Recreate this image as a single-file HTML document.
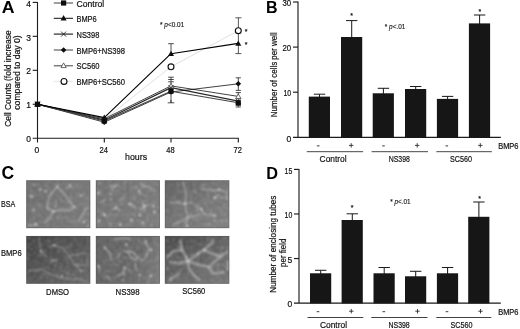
<!DOCTYPE html>
<html lang="en"><head><meta charset="utf-8"><title>Figure</title>
<style>html,body{margin:0;padding:0;background:#fff;}svg{display:block;}text{font-family:'Liberation Sans', Arial, sans-serif;}</style>
</head><body>
<svg width="520" height="329" viewBox="0 0 520 329">
<defs><filter id="soft" x="-5%" y="-5%" width="110%" height="110%"><feGaussianBlur stdDeviation="0.42"/></filter><filter id="b1" x="-10%" y="-10%" width="120%" height="120%"><feGaussianBlur stdDeviation="0.85"/></filter><filter id="b2" x="-10%" y="-10%" width="120%" height="120%"><feGaussianBlur stdDeviation="1.3"/></filter></defs>
<rect width="520" height="329" fill="#fff"/>
<g filter="url(#soft)">
<text x="1.70" y="12.84" font-size="16.3" text-anchor="start" fill="#000" stroke="#000" stroke-width="0" textLength="12.8" lengthAdjust="spacingAndGlyphs" font-weight="bold" >A</text>
<text x="266.00" y="13.03" font-size="16" text-anchor="start" fill="#000" stroke="#000" stroke-width="0" font-weight="bold" >B</text>
<text x="1.50" y="178.60" font-size="17.6" text-anchor="start" fill="#000" stroke="#000" stroke-width="0" font-weight="bold" >C</text>
<text x="266.20" y="178.84" font-size="16.3" text-anchor="start" fill="#000" stroke="#000" stroke-width="0" font-weight="bold" >D</text>
<g stroke="#1c1c1c" stroke-width="1.1" fill="none">
<path d="M37.5,1.90 V142.39999999999998 M32.7,138.2 H238.8"/>
<path d="M32.7,104.25 H37.5"/>
<path d="M32.7,70.30 H37.5"/>
<path d="M32.7,36.35 H37.5"/>
<path d="M32.7,2.40 H37.5"/>
<path d="M104.3,138.2 V142.39999999999998"/>
<path d="M171.0,138.2 V142.39999999999998"/>
<path d="M238.3,138.2 V142.39999999999998"/>
</g>
<text x="31.00" y="142.35" font-size="8.51" text-anchor="end" fill="#111" stroke="#111" stroke-width="0.2" >0</text>
<text x="31.00" y="108.40" font-size="8.51" text-anchor="end" fill="#111" stroke="#111" stroke-width="0.2" >1</text>
<text x="31.00" y="74.45" font-size="8.51" text-anchor="end" fill="#111" stroke="#111" stroke-width="0.2" >2</text>
<text x="31.00" y="40.50" font-size="8.51" text-anchor="end" fill="#111" stroke="#111" stroke-width="0.2" >3</text>
<text x="31.00" y="6.55" font-size="8.51" text-anchor="end" fill="#111" stroke="#111" stroke-width="0.2" >4</text>
<text x="36.90" y="153.35" font-size="8.51" text-anchor="middle" fill="#111" stroke="#111" stroke-width="0.2" >0</text>
<text x="103.70" y="153.35" font-size="8.51" text-anchor="middle" fill="#111" stroke="#111" stroke-width="0.2" textLength="8.4" lengthAdjust="spacingAndGlyphs" >24</text>
<text x="170.40" y="153.35" font-size="8.51" text-anchor="middle" fill="#111" stroke="#111" stroke-width="0.2" textLength="8.4" lengthAdjust="spacingAndGlyphs" >48</text>
<text x="237.70" y="153.35" font-size="8.51" text-anchor="middle" fill="#111" stroke="#111" stroke-width="0.2" textLength="8.4" lengthAdjust="spacingAndGlyphs" >72</text>
<text x="136.10" y="160.31" font-size="8.96" text-anchor="middle" fill="#111" stroke="#111" stroke-width="0.2" textLength="22.0" lengthAdjust="spacingAndGlyphs" >hours</text>
<text transform="translate(11.00,78.60) rotate(-90)" font-size="8.6" text-anchor="middle" textLength="96.5" lengthAdjust="spacingAndGlyphs" fill="#111" stroke="#111" stroke-width="0.2">Cell Counts (fold increase</text>
<text transform="translate(20.30,72.50) rotate(-90)" font-size="8.6" text-anchor="middle" textLength="74.5" lengthAdjust="spacingAndGlyphs" fill="#111" stroke="#111" stroke-width="0.2">compared to day 0)</text>
<text x="160.0" y="27.0" font-size="6.6" fill="#111" stroke="#111" stroke-width="0.12" textLength="24.3" lengthAdjust="spacingAndGlyphs">* <tspan font-style="italic">p</tspan>&lt;0.01</text>
<polyline points="37.5,104.2 104.3,119.6 171.0,66.8 238.3,30.7" fill="none" stroke="#dcdcdc" stroke-width="0.9" stroke-linejoin="round"/>
<polyline points="37.5,104.2 104.3,118.8 171.0,85.9 238.3,96.4" fill="none" stroke="#444" stroke-width="1.0" stroke-linejoin="round"/>
<polyline points="37.5,104.2 104.3,120.2 171.0,87.6 238.3,101.2" fill="none" stroke="#2a2a2a" stroke-width="1.2" stroke-linejoin="round"/>
<polyline points="37.5,104.2 104.3,122.2 171.0,92.0 238.3,83.8" fill="none" stroke="#000" stroke-width="0.75" stroke-linejoin="round"/>
<polyline points="37.5,104.2 104.3,121.0 171.0,91.2 238.3,102.8" fill="none" stroke="#444" stroke-width="1.15" stroke-linejoin="round"/>
<polyline points="37.5,104.2 104.3,117.6 171.0,53.7 238.3,43.4" fill="none" stroke="#000" stroke-width="1.15" stroke-linejoin="round"/>
<path d="M171.0,43.7 V53.7" stroke="#222" stroke-width="0.8" fill="none"/>
<path d="M168.2,43.7 H173.8" stroke="#222" stroke-width="0.8" fill="none"/>
<path d="M171.0,77.2 V102.8" stroke="#222" stroke-width="0.8" fill="none"/>
<path d="M168.2,77.2 H173.8" stroke="#222" stroke-width="0.8" fill="none"/>
<path d="M168.2,79.5 H173.8" stroke="#222" stroke-width="0.8" fill="none"/>
<path d="M168.2,81.8 H173.8" stroke="#222" stroke-width="0.8" fill="none"/>
<path d="M171.0,100 V102.8" stroke="#222" stroke-width="0.8" fill="none"/>
<path d="M167.7,102.8 H174.3" stroke="#222" stroke-width="0.8" fill="none"/>
<path d="M238.4,17.8 V44.0" stroke="#222" stroke-width="0.75" fill="none"/>
<path d="M235.4,17.8 H241.4" stroke="#222" stroke-width="0.75" fill="none"/>
<path d="M238.4,44.0 V53.6" stroke="#222" stroke-width="0.75" fill="none"/>
<path d="M235.4,53.6 H241.4" stroke="#222" stroke-width="0.75" fill="none"/>
<path d="M238.3,77.8 V90.4" stroke="#222" stroke-width="0.8" fill="none"/>
<path d="M235.70000000000002,77.8 H240.9" stroke="#222" stroke-width="0.8" fill="none"/>
<path d="M235.70000000000002,90.4 H240.9" stroke="#222" stroke-width="0.8" fill="none"/>
<path d="M238.3,92.6 V107.0" stroke="#222" stroke-width="0.8" fill="none"/>
<path d="M235.70000000000002,92.6 H240.9" stroke="#222" stroke-width="0.8" fill="none"/>
<path d="M235.70000000000002,107.0 H240.9" stroke="#222" stroke-width="0.8" fill="none"/>
<path d="M235.70000000000002,105.3 H240.9" stroke="#222" stroke-width="0.8" fill="none"/>
<path d="M37.5,101.60000000000001 L40.1,106.28 L34.9,106.28 Z" fill="#fff" stroke="#444" stroke-width="0.8"/>
<path d="M35.0,101.7 L40.0,106.7 M35.0,106.7 L40.0,101.7" stroke="#1a1a1a" stroke-width="0.85" fill="none"/>
<path d="M37.5,101.4 L40.3,104.2 L37.5,107.0 L34.7,104.2 Z" fill="#111"/>
<rect x="34.9" y="101.60000000000001" width="5.2" height="5.2" fill="#111"/>
<path d="M37.5,101.2 L40.5,106.60000000000001 L34.5,106.60000000000001 Z" fill="#111" stroke="none" stroke-width="0.8"/>
<path d="M104.3,116.2 L106.89999999999999,120.88 L101.7,120.88 Z" fill="#fff" stroke="#444" stroke-width="0.8"/>
<path d="M101.8,117.7 L106.8,122.7 M101.8,122.7 L106.8,117.7" stroke="#1a1a1a" stroke-width="0.85" fill="none"/>
<path d="M104.3,119.4 L107.1,122.2 L104.3,125.0 L101.5,122.2 Z" fill="#111"/>
<rect x="101.7" y="118.4" width="5.2" height="5.2" fill="#111"/>
<path d="M104.3,114.6 L107.3,120.0 L101.3,120.0 Z" fill="#111" stroke="none" stroke-width="0.8"/>
<path d="M171.0,83.30000000000001 L173.6,87.98 L168.4,87.98 Z" fill="#fff" stroke="#444" stroke-width="0.8"/>
<path d="M168.5,85.1 L173.5,90.1 M168.5,90.1 L173.5,85.1" stroke="#1a1a1a" stroke-width="0.85" fill="none"/>
<path d="M171.0,89.2 L173.8,92.0 L171.0,94.8 L168.2,92.0 Z" fill="#111"/>
<rect x="168.4" y="88.60000000000001" width="5.2" height="5.2" fill="#111"/>
<path d="M171.0,50.7 L174.0,56.1 L168.0,56.1 Z" fill="#111" stroke="none" stroke-width="0.8"/>
<circle cx="171.0" cy="66.8" r="2.95" fill="#fff" stroke="#111" stroke-width="1.15"/>
<path d="M238.3,93.80000000000001 L240.9,98.48 L235.70000000000002,98.48 Z" fill="#fff" stroke="#444" stroke-width="0.8"/>
<path d="M235.8,98.7 L240.8,103.7 M235.8,103.7 L240.8,98.7" stroke="#1a1a1a" stroke-width="0.85" fill="none"/>
<path d="M238.3,81.0 L241.10000000000002,83.8 L238.3,86.6 L235.5,83.8 Z" fill="#111"/>
<rect x="235.70000000000002" y="100.2" width="5.2" height="5.2" fill="#111"/>
<path d="M238.3,40.4 L241.3,45.8 L235.3,45.8 Z" fill="#111" stroke="none" stroke-width="0.8"/>
<circle cx="238.3" cy="30.7" r="2.95" fill="#fff" stroke="#111" stroke-width="1.15"/>
<text x="246.00" y="34.01" font-size="7" text-anchor="middle" fill="#111" stroke="#111" stroke-width="0.2" >*</text>
<text x="246.00" y="47.41" font-size="7" text-anchor="middle" fill="#111" stroke="#111" stroke-width="0.2" >*</text>
<path d="M53.8,3.0 H73.0" stroke="#666" stroke-width="1.25"/>
<path d="M53.8,18.3 H73.0" stroke="#000" stroke-width="0.95"/>
<path d="M53.8,34.1 H73.0" stroke="#2a2a2a" stroke-width="1.2"/>
<path d="M53.8,50.0 H73.0" stroke="#000" stroke-width="0.75"/>
<path d="M53.8,65.8 H73.0" stroke="#444" stroke-width="1.0"/>
<path d="M53.8,81.4 H73.0" stroke="#e2e2e2" stroke-width="0.9"/>
<rect x="61.0" y="0.3999999999999999" width="5.2" height="5.2" fill="#111"/>
<path d="M63.6,15.0 L66.6,20.4 L60.6,20.4 Z" fill="#111" stroke="none" stroke-width="0.8"/>
<path d="M61.1,31.6 L66.1,36.6 M61.1,36.6 L66.1,31.6" stroke="#1a1a1a" stroke-width="0.85" fill="none"/>
<path d="M63.6,47.2 L66.4,50.0 L63.6,52.8 L60.800000000000004,50.0 Z" fill="#111"/>
<path d="M63.6,62.9 L66.2,67.58 L61.0,67.58 Z" fill="#fff" stroke="#444" stroke-width="0.8"/>
<circle cx="64.0" cy="81.4" r="2.95" fill="#fff" stroke="#111" stroke-width="1.15"/>
<text x="76.50" y="6.69" font-size="9.18" text-anchor="start" fill="#111" stroke="#111" stroke-width="0.2" textLength="27.799999999999997" lengthAdjust="spacingAndGlyphs" >Control</text>
<text x="76.50" y="21.99" font-size="9.18" text-anchor="start" fill="#111" stroke="#111" stroke-width="0.2" textLength="20.2" lengthAdjust="spacingAndGlyphs" >BMP6</text>
<text x="76.50" y="37.79" font-size="9.18" text-anchor="start" fill="#111" stroke="#111" stroke-width="0.2" textLength="22.799999999999997" lengthAdjust="spacingAndGlyphs" >NS398</text>
<text x="76.50" y="53.69" font-size="9.18" text-anchor="start" fill="#111" stroke="#111" stroke-width="0.2" textLength="48.6" lengthAdjust="spacingAndGlyphs" >BMP6+NS398</text>
<text x="76.50" y="69.49" font-size="9.18" text-anchor="start" fill="#111" stroke="#111" stroke-width="0.2" textLength="23.0" lengthAdjust="spacingAndGlyphs" >SC560</text>
<text x="76.50" y="85.09" font-size="9.18" text-anchor="start" fill="#111" stroke="#111" stroke-width="0.2" textLength="48.6" lengthAdjust="spacingAndGlyphs" >BMP6+SC560</text>
<g stroke="#1c1c1c" stroke-width="1.15" fill="none">
<path d="M298.0,1.50 V137.3 M293.0,137.3 H500.8"/>
<path d="M293.0,92.20 H298.0"/>
<path d="M293.0,47.10 H298.0"/>
<path d="M293.0,2.00 H298.0"/>
</g>
<text x="291.20" y="141.55" font-size="8.51" text-anchor="end" fill="#111" stroke="#111" stroke-width="0.2" >0</text>
<text x="291.20" y="96.45" font-size="8.51" text-anchor="end" fill="#111" stroke="#111" stroke-width="0.2" textLength="7.7" lengthAdjust="spacingAndGlyphs" >10</text>
<text x="291.20" y="51.35" font-size="8.51" text-anchor="end" fill="#111" stroke="#111" stroke-width="0.2" textLength="8.7" lengthAdjust="spacingAndGlyphs" >20</text>
<text x="291.20" y="6.25" font-size="8.51" text-anchor="end" fill="#111" stroke="#111" stroke-width="0.2" textLength="8.7" lengthAdjust="spacingAndGlyphs" >30</text>
<path d="M319.5,94.2 V97.6" stroke="#1a1a1a" stroke-width="1.0"/>
<path d="M313.8,94.2 H325.2" stroke="#1a1a1a" stroke-width="1.0"/>
<rect x="308.8" y="96.6" width="21.2" height="41.00" fill="#161616"/>
<path d="M351.7,20.6 V38.0" stroke="#1a1a1a" stroke-width="1.0"/>
<path d="M346.0,20.6 H357.4" stroke="#1a1a1a" stroke-width="1.0"/>
<rect x="341.0" y="37.0" width="21.2" height="100.60" fill="#161616"/>
<path d="M383.4,88.3 V94.3" stroke="#1a1a1a" stroke-width="1.0"/>
<path d="M377.7,88.3 H389.09999999999997" stroke="#1a1a1a" stroke-width="1.0"/>
<rect x="372.7" y="93.3" width="21.2" height="44.30" fill="#161616"/>
<path d="M415.7,86.5 V90.0" stroke="#1a1a1a" stroke-width="1.0"/>
<path d="M410.0,86.5 H421.4" stroke="#1a1a1a" stroke-width="1.0"/>
<rect x="405.0" y="89.0" width="21.2" height="48.60" fill="#161616"/>
<path d="M447.59999999999997,96.4 V99.9" stroke="#1a1a1a" stroke-width="1.0"/>
<path d="M441.9,96.4 H453.29999999999995" stroke="#1a1a1a" stroke-width="1.0"/>
<rect x="436.9" y="98.9" width="21.2" height="38.70" fill="#161616"/>
<path d="M479.59999999999997,15.0 V24.4" stroke="#1a1a1a" stroke-width="1.0"/>
<path d="M473.9,15.0 H485.29999999999995" stroke="#1a1a1a" stroke-width="1.0"/>
<rect x="468.9" y="23.4" width="21.2" height="114.20" fill="#161616"/>
<text x="351.50" y="18.11" font-size="7" text-anchor="middle" fill="#111" stroke="#111" stroke-width="0.2" >*</text>
<text x="479.80" y="13.81" font-size="7" text-anchor="middle" fill="#111" stroke="#111" stroke-width="0.2" >*</text>
<path d="M316.9,145.9 H319.5" stroke="#222" stroke-width="0.9"/>
<path d="M349.0,145.4 H353.4 M351.2,143.20000000000002 V147.6" stroke="#222" stroke-width="0.85"/>
<path d="M382.2,145.9 H384.8" stroke="#222" stroke-width="0.9"/>
<path d="M415.0,145.4 H419.4 M417.2,143.20000000000002 V147.6" stroke="#222" stroke-width="0.85"/>
<path d="M445.5,145.9 H448.1" stroke="#222" stroke-width="0.9"/>
<path d="M478.1,145.4 H482.5 M480.3,143.20000000000002 V147.6" stroke="#222" stroke-width="0.85"/>
<text x="498.20" y="149.45" font-size="8.51" text-anchor="start" fill="#111" stroke="#111" stroke-width="0.2" textLength="20.3" lengthAdjust="spacingAndGlyphs" >BMP6</text>
<path d="M306.8,151.70000000000002 H363.1" stroke="#222" stroke-width="0.85"/>
<text x="333.10" y="161.99" font-size="9.18" text-anchor="middle" fill="#111" stroke="#111" stroke-width="0.2" textLength="27.0" lengthAdjust="spacingAndGlyphs" >Control</text>
<path d="M371.6,151.70000000000002 H428.0" stroke="#222" stroke-width="0.85"/>
<text x="399.30" y="161.99" font-size="9.18" text-anchor="middle" fill="#111" stroke="#111" stroke-width="0.2" textLength="21.2" lengthAdjust="spacingAndGlyphs" >NS398</text>
<path d="M436.4,151.70000000000002 H491.8" stroke="#222" stroke-width="0.85"/>
<text x="461.00" y="161.99" font-size="9.18" text-anchor="middle" fill="#111" stroke="#111" stroke-width="0.2" textLength="22.0" lengthAdjust="spacingAndGlyphs" >SC560</text>
<text x="384.8" y="29.1" font-size="6.8" fill="#111" stroke="#111" stroke-width="0.12" textLength="20.6" lengthAdjust="spacingAndGlyphs">* <tspan font-style="italic">p</tspan>&lt;.01</text>
<text transform="translate(277.40,74.70) rotate(-90)" font-size="8.4" text-anchor="middle" textLength="85.0" lengthAdjust="spacingAndGlyphs" fill="#111" stroke="#111" stroke-width="0.2">Number of cells per well</text>
<g stroke="#1c1c1c" stroke-width="1.15" fill="none">
<path d="M299.0,168.91 V303.1 M294.0,303.1 H500.8"/>
<path d="M294.0,258.54 H299.0"/>
<path d="M294.0,213.97 H299.0"/>
<path d="M294.0,169.41 H299.0"/>
</g>
<text x="292.30" y="307.35" font-size="8.51" text-anchor="end" fill="#111" stroke="#111" stroke-width="0.2" >0</text>
<text x="292.30" y="262.78" font-size="8.51" text-anchor="end" fill="#111" stroke="#111" stroke-width="0.2" >5</text>
<text x="292.30" y="218.22" font-size="8.51" text-anchor="end" fill="#111" stroke="#111" stroke-width="0.2" textLength="7.7" lengthAdjust="spacingAndGlyphs" >10</text>
<text x="292.30" y="173.65" font-size="8.51" text-anchor="end" fill="#111" stroke="#111" stroke-width="0.2" textLength="7.7" lengthAdjust="spacingAndGlyphs" >15</text>
<path d="M320.7,270.3 V274.3" stroke="#1a1a1a" stroke-width="1.0"/>
<path d="M315.0,270.3 H326.4" stroke="#1a1a1a" stroke-width="1.0"/>
<rect x="310.0" y="273.3" width="21.2" height="30.10" fill="#161616"/>
<path d="M352.3,213.8 V221.0" stroke="#1a1a1a" stroke-width="1.0"/>
<path d="M346.6,213.8 H358.0" stroke="#1a1a1a" stroke-width="1.0"/>
<rect x="341.6" y="220.0" width="21.2" height="83.40" fill="#161616"/>
<path d="M384.2,267.5 V274.3" stroke="#1a1a1a" stroke-width="1.0"/>
<path d="M378.5,267.5 H389.9" stroke="#1a1a1a" stroke-width="1.0"/>
<rect x="373.5" y="273.3" width="21.2" height="30.10" fill="#161616"/>
<path d="M415.7,271.3 V277.3" stroke="#1a1a1a" stroke-width="1.0"/>
<path d="M410.0,271.3 H421.4" stroke="#1a1a1a" stroke-width="1.0"/>
<rect x="405.0" y="276.3" width="21.2" height="27.10" fill="#161616"/>
<path d="M447.59999999999997,267.5 V274.3" stroke="#1a1a1a" stroke-width="1.0"/>
<path d="M441.9,267.5 H453.29999999999995" stroke="#1a1a1a" stroke-width="1.0"/>
<rect x="436.9" y="273.3" width="21.2" height="30.10" fill="#161616"/>
<path d="M478.9,202.0 V217.8" stroke="#1a1a1a" stroke-width="1.0"/>
<path d="M473.2,202.0 H484.59999999999997" stroke="#1a1a1a" stroke-width="1.0"/>
<rect x="468.2" y="216.8" width="21.2" height="86.60" fill="#161616"/>
<text x="352.00" y="210.11" font-size="7" text-anchor="middle" fill="#111" stroke="#111" stroke-width="0.2" >*</text>
<text x="479.60" y="200.91" font-size="7" text-anchor="middle" fill="#111" stroke="#111" stroke-width="0.2" >*</text>
<path d="M316.7,311.70000000000005 H319.3" stroke="#222" stroke-width="0.9"/>
<path d="M349.1,311.20000000000005 H353.5 M351.3,309.00000000000006 V313.40000000000003" stroke="#222" stroke-width="0.85"/>
<path d="M382.5,311.70000000000005 H385.1" stroke="#222" stroke-width="0.9"/>
<path d="M415.3,311.20000000000005 H419.7 M417.5,309.00000000000006 V313.40000000000003" stroke="#222" stroke-width="0.85"/>
<path d="M445.7,311.70000000000005 H448.3" stroke="#222" stroke-width="0.9"/>
<path d="M478.3,311.20000000000005 H482.7 M480.5,309.00000000000006 V313.40000000000003" stroke="#222" stroke-width="0.85"/>
<text x="498.20" y="315.25" font-size="8.51" text-anchor="start" fill="#111" stroke="#111" stroke-width="0.2" textLength="20.3" lengthAdjust="spacingAndGlyphs" >BMP6</text>
<path d="M307.5,317.5 H363.3" stroke="#222" stroke-width="0.85"/>
<text x="333.50" y="327.79" font-size="9.18" text-anchor="middle" fill="#111" stroke="#111" stroke-width="0.2" textLength="27.0" lengthAdjust="spacingAndGlyphs" >Control</text>
<path d="M371.3,317.5 H427.5" stroke="#222" stroke-width="0.85"/>
<text x="399.10" y="327.79" font-size="9.18" text-anchor="middle" fill="#111" stroke="#111" stroke-width="0.2" textLength="21.2" lengthAdjust="spacingAndGlyphs" >NS398</text>
<path d="M436.3,317.5 H491.3" stroke="#222" stroke-width="0.85"/>
<text x="461.50" y="327.79" font-size="9.18" text-anchor="middle" fill="#111" stroke="#111" stroke-width="0.2" textLength="22.0" lengthAdjust="spacingAndGlyphs" >SC560</text>
<text x="390.2" y="204.3" font-size="6.8" fill="#111" stroke="#111" stroke-width="0.12" textLength="20.4" lengthAdjust="spacingAndGlyphs">* <tspan font-style="italic">p</tspan>&lt;.01</text>
<text transform="translate(275.60,244.20) rotate(-90)" font-size="8.4" text-anchor="middle" textLength="97" lengthAdjust="spacingAndGlyphs" fill="#111" stroke="#111" stroke-width="0.2">Number of enclosing tubes</text>
<text transform="translate(286.00,252.70) rotate(-90)" font-size="8.4" text-anchor="middle" textLength="28.4" lengthAdjust="spacingAndGlyphs" fill="#111" stroke="#111" stroke-width="0.2">per field</text>
<defs><filter id="grain" x="0" y="0" width="100%" height="100%"><feTurbulence type="fractalNoise" baseFrequency="0.3" numOctaves="3" seed="3" result="n"/><feColorMatrix in="n" type="matrix" values="0 0 0 0 1  0 0 0 0 1  0 0 0 0 1  1.2 1.2 0 0 -0.95"/><feGaussianBlur stdDeviation="0.9"/></filter><linearGradient id="g1" x1="0" x2="1" y1="0" y2="0.3"><stop offset="0" stop-color="#696969"/><stop offset="1" stop-color="#757575"/></linearGradient><linearGradient id="g2" x1="0" x2="1" y1="0" y2="0.5"><stop offset="0" stop-color="#6d6d6d"/><stop offset="1" stop-color="#767676"/></linearGradient><linearGradient id="g3" x1="0" x2="1" y1="0" y2="1"><stop offset="0" stop-color="#5e5e5e"/><stop offset="0.6" stop-color="#737373"/><stop offset="1" stop-color="#7c7c7c"/></linearGradient><linearGradient id="g4" x1="0" x2="1" y1="0" y2="1"><stop offset="0" stop-color="#3f3f3f"/><stop offset="0.55" stop-color="#535353"/><stop offset="1" stop-color="#656565"/></linearGradient><linearGradient id="g5" x1="0" x2="1" y1="0" y2="0.2"><stop offset="0" stop-color="#5d5d5d"/><stop offset="0.8" stop-color="#656565"/><stop offset="1" stop-color="#737373"/></linearGradient><linearGradient id="g6" x1="0" x2="0.8" y1="0" y2="1"><stop offset="0" stop-color="#434343"/><stop offset="0.5" stop-color="#5c5c5c"/><stop offset="1" stop-color="#6f6f6f"/></linearGradient></defs>
<rect x="26.3" y="180.4" width="63.9" height="47.7" fill="url(#g1)"/>
<rect x="26.3" y="180.4" width="63.9" height="47.7" fill="#fff" opacity="0.22" filter="url(#grain)"/>
<g filter="url(#b1)" stroke="#c8c8c8" stroke-opacity="0.62" stroke-width="1.4" fill="none" stroke-linecap="round" stroke-linejoin="round" stroke-dasharray="2.6 0.9 1.4 1.2 3.4 0.7">
<polyline points="57.3,186.7 49.1,196.4 46.9,208.3 53.6,211.3 61.8,209.8 70.7,210.6 74.4,206.8 69.2,200.9 64.0,193.4 57.3,186.7"/>
<polyline points="53.6,211.3 49.8,218.0 43.9,223.2"/>
<polyline points="87.1,207.6 83.4,213.5 78.2,221.7"/>
<polyline points="28.5,225.4 38.5,225.4"/>
<circle cx="57.3" cy="186.7" r="1.15" fill="#e6e6e6" fill-opacity="0.82" stroke="none"/>
<circle cx="31.2" cy="196.4" r="1.15" fill="#e6e6e6" fill-opacity="0.82" stroke="none"/>
<circle cx="33.5" cy="209.8" r="1.15" fill="#e6e6e6" fill-opacity="0.82" stroke="none"/>
<circle cx="81.1" cy="195.6" r="1.15" fill="#e6e6e6" fill-opacity="0.82" stroke="none"/>
<circle cx="40.2" cy="189.7" r="1.15" fill="#e6e6e6" fill-opacity="0.82" stroke="none"/>
<circle cx="45.4" cy="191.2" r="1.15" fill="#e6e6e6" fill-opacity="0.82" stroke="none"/>
<circle cx="35.7" cy="224.0" r="1.15" fill="#e6e6e6" fill-opacity="0.82" stroke="none"/>
<circle cx="74.4" cy="206.8" r="1.15" fill="#e6e6e6" fill-opacity="0.82" stroke="none"/>
<circle cx="53.6" cy="211.3" r="1.15" fill="#e6e6e6" fill-opacity="0.82" stroke="none"/>
<circle cx="70.0" cy="186.0" r="1.15" fill="#e6e6e6" fill-opacity="0.82" stroke="none"/>
<circle cx="84.0" cy="222.0" r="1.15" fill="#e6e6e6" fill-opacity="0.82" stroke="none"/>
<circle cx="55.4" cy="206.9" r="1.05" fill="#dcdcdc" fill-opacity="0.46" stroke="none"/>
<circle cx="56.2" cy="204.6" r="0.85" fill="#dcdcdc" fill-opacity="0.46" stroke="none"/>
<circle cx="39.4" cy="204.8" r="0.88" fill="#dcdcdc" fill-opacity="0.46" stroke="none"/>
<circle cx="75.8" cy="186.5" r="0.68" fill="#dcdcdc" fill-opacity="0.46" stroke="none"/>
<circle cx="33.7" cy="217.8" r="0.92" fill="#dcdcdc" fill-opacity="0.46" stroke="none"/>
<circle cx="30.8" cy="225.3" r="1.08" fill="#dcdcdc" fill-opacity="0.46" stroke="none"/>
<circle cx="67.5" cy="209.3" r="0.59" fill="#dcdcdc" fill-opacity="0.46" stroke="none"/>
<circle cx="29.2" cy="205.5" r="0.54" fill="#dcdcdc" fill-opacity="0.46" stroke="none"/>
<circle cx="39.7" cy="193.0" r="0.52" fill="#dcdcdc" fill-opacity="0.46" stroke="none"/>
<circle cx="56.1" cy="201.7" r="1.01" fill="#dcdcdc" fill-opacity="0.46" stroke="none"/>
<circle cx="59.4" cy="210.4" r="0.80" fill="#dcdcdc" fill-opacity="0.46" stroke="none"/>
<circle cx="68.0" cy="202.4" r="0.67" fill="#dcdcdc" fill-opacity="0.46" stroke="none"/>
<circle cx="88.1" cy="225.9" r="1.00" fill="#dcdcdc" fill-opacity="0.46" stroke="none"/>
<circle cx="70.7" cy="196.2" r="0.64" fill="#dcdcdc" fill-opacity="0.46" stroke="none"/>
<circle cx="45.6" cy="185.5" r="0.96" fill="#dcdcdc" fill-opacity="0.46" stroke="none"/>
<circle cx="52.3" cy="219.4" r="0.73" fill="#dcdcdc" fill-opacity="0.46" stroke="none"/>
<circle cx="85.7" cy="219.4" r="0.50" fill="#dcdcdc" fill-opacity="0.46" stroke="none"/>
<circle cx="40.9" cy="222.2" r="0.78" fill="#dcdcdc" fill-opacity="0.46" stroke="none"/>
<circle cx="87.0" cy="199.8" r="0.54" fill="#dcdcdc" fill-opacity="0.46" stroke="none"/>
<circle cx="66.0" cy="216.4" r="0.66" fill="#dcdcdc" fill-opacity="0.46" stroke="none"/>
<circle cx="33.5" cy="196.9" r="1.08" fill="#dcdcdc" fill-opacity="0.46" stroke="none"/>
<circle cx="73.7" cy="187.6" r="0.65" fill="#dcdcdc" fill-opacity="0.46" stroke="none"/>
<circle cx="34.4" cy="185.0" r="0.98" fill="#dcdcdc" fill-opacity="0.46" stroke="none"/>
<circle cx="38.9" cy="206.8" r="0.77" fill="#dcdcdc" fill-opacity="0.46" stroke="none"/>
<circle cx="39.7" cy="214.4" r="0.58" fill="#dcdcdc" fill-opacity="0.46" stroke="none"/>
<circle cx="66.9" cy="187.5" r="0.75" fill="#dcdcdc" fill-opacity="0.46" stroke="none"/>
</g>
<rect x="26.6" y="180.70000000000002" width="63.3" height="47.1" fill="none" stroke="#5a5a5a" stroke-opacity="0.6" stroke-width="0.7"/>
<rect x="95.9" y="180.4" width="64.0" height="47.7" fill="url(#g2)"/>
<rect x="95.9" y="180.4" width="64.0" height="47.7" fill="#fff" opacity="0.22" filter="url(#grain)"/>
<g filter="url(#b1)" stroke="#c8c8c8" stroke-opacity="0.62" stroke-width="1.4" fill="none" stroke-linecap="round" stroke-linejoin="round" stroke-dasharray="2.6 0.9 1.4 1.2 3.4 0.7">
<polyline points="109.2,186.0 118.8,185.2"/>
<polyline points="111.4,189.7 116.0,186.0"/>
<polyline points="140.5,183.0 144.9,186.7 147.9,186.0 153.9,190.4"/>
<polyline points="129.3,203.8 135.2,207.6"/>
<polyline points="142.7,202.4 144.9,211.3"/>
<polyline points="141.2,209.1 147.9,204.6"/>
<polyline points="101.0,202.4 106.2,199.4"/>
<polyline points="113.0,209.8 115.9,207.6 119.6,209.8"/>
<polyline points="123.3,197.9 120.3,200.1"/>
<polyline points="102.5,213.0 106.5,216.5"/>
<circle cx="139.0" cy="191.2" r="1.15" fill="#e6e6e6" fill-opacity="0.82" stroke="none"/>
<circle cx="153.1" cy="206.1" r="1.15" fill="#e6e6e6" fill-opacity="0.82" stroke="none"/>
<circle cx="154.6" cy="212.0" r="1.15" fill="#e6e6e6" fill-opacity="0.82" stroke="none"/>
<circle cx="104.7" cy="215.0" r="1.15" fill="#e6e6e6" fill-opacity="0.82" stroke="none"/>
<circle cx="120.3" cy="224.7" r="1.15" fill="#e6e6e6" fill-opacity="0.82" stroke="none"/>
<circle cx="131.5" cy="220.2" r="1.15" fill="#e6e6e6" fill-opacity="0.82" stroke="none"/>
<circle cx="139.7" cy="215.0" r="1.15" fill="#e6e6e6" fill-opacity="0.82" stroke="none"/>
<circle cx="142.7" cy="223.2" r="1.15" fill="#e6e6e6" fill-opacity="0.82" stroke="none"/>
<circle cx="129.3" cy="203.8" r="1.15" fill="#e6e6e6" fill-opacity="0.82" stroke="none"/>
<circle cx="144.2" cy="206.1" r="1.15" fill="#e6e6e6" fill-opacity="0.82" stroke="none"/>
<circle cx="115.9" cy="207.6" r="1.15" fill="#e6e6e6" fill-opacity="0.82" stroke="none"/>
<circle cx="98.5" cy="193.0" r="1.15" fill="#e6e6e6" fill-opacity="0.82" stroke="none"/>
<circle cx="99.0" cy="221.0" r="1.15" fill="#e6e6e6" fill-opacity="0.82" stroke="none"/>
<circle cx="110.7" cy="194.2" r="1.08" fill="#dcdcdc" fill-opacity="0.46" stroke="none"/>
<circle cx="146.1" cy="195.7" r="1.03" fill="#dcdcdc" fill-opacity="0.46" stroke="none"/>
<circle cx="110.5" cy="199.6" r="1.01" fill="#dcdcdc" fill-opacity="0.46" stroke="none"/>
<circle cx="136.4" cy="186.8" r="1.09" fill="#dcdcdc" fill-opacity="0.46" stroke="none"/>
<circle cx="110.7" cy="193.7" r="0.96" fill="#dcdcdc" fill-opacity="0.46" stroke="none"/>
<circle cx="117.6" cy="195.3" r="0.54" fill="#dcdcdc" fill-opacity="0.46" stroke="none"/>
<circle cx="103.3" cy="207.9" r="0.65" fill="#dcdcdc" fill-opacity="0.46" stroke="none"/>
<circle cx="134.0" cy="198.6" r="0.77" fill="#dcdcdc" fill-opacity="0.46" stroke="none"/>
<circle cx="155.4" cy="203.5" r="0.84" fill="#dcdcdc" fill-opacity="0.46" stroke="none"/>
<circle cx="149.9" cy="190.4" r="0.59" fill="#dcdcdc" fill-opacity="0.46" stroke="none"/>
<circle cx="152.4" cy="218.1" r="0.65" fill="#dcdcdc" fill-opacity="0.46" stroke="none"/>
<circle cx="109.3" cy="214.7" r="1.06" fill="#dcdcdc" fill-opacity="0.46" stroke="none"/>
<circle cx="109.7" cy="223.9" r="1.03" fill="#dcdcdc" fill-opacity="0.46" stroke="none"/>
<circle cx="134.1" cy="200.8" r="0.56" fill="#dcdcdc" fill-opacity="0.46" stroke="none"/>
<circle cx="100.2" cy="224.5" r="0.64" fill="#dcdcdc" fill-opacity="0.46" stroke="none"/>
<circle cx="140.2" cy="193.6" r="0.99" fill="#dcdcdc" fill-opacity="0.46" stroke="none"/>
<circle cx="133.7" cy="195.2" r="0.61" fill="#dcdcdc" fill-opacity="0.46" stroke="none"/>
<circle cx="141.1" cy="185.4" r="0.64" fill="#dcdcdc" fill-opacity="0.46" stroke="none"/>
<circle cx="131.5" cy="219.6" r="0.87" fill="#dcdcdc" fill-opacity="0.46" stroke="none"/>
<circle cx="114.7" cy="222.5" r="0.62" fill="#dcdcdc" fill-opacity="0.46" stroke="none"/>
<circle cx="98.9" cy="194.2" r="0.77" fill="#dcdcdc" fill-opacity="0.46" stroke="none"/>
<circle cx="101.5" cy="190.1" r="0.72" fill="#dcdcdc" fill-opacity="0.46" stroke="none"/>
<circle cx="132.2" cy="188.1" r="0.72" fill="#dcdcdc" fill-opacity="0.46" stroke="none"/>
<circle cx="151.4" cy="225.2" r="0.89" fill="#dcdcdc" fill-opacity="0.46" stroke="none"/>
<circle cx="139.4" cy="207.9" r="0.58" fill="#dcdcdc" fill-opacity="0.46" stroke="none"/>
<circle cx="100.0" cy="183.2" r="1.05" fill="#dcdcdc" fill-opacity="0.46" stroke="none"/>
</g>
<rect x="96.2" y="180.70000000000002" width="63.4" height="47.1" fill="none" stroke="#5a5a5a" stroke-opacity="0.6" stroke-width="0.7"/>
<rect x="164.9" y="180.4" width="64.3" height="47.7" fill="url(#g3)"/>
<rect x="164.9" y="180.4" width="64.3" height="47.7" fill="#fff" opacity="0.22" filter="url(#grain)"/>
<g filter="url(#b1)" stroke="#c8c8c8" stroke-opacity="0.62" stroke-width="1.4" fill="none" stroke-linecap="round" stroke-linejoin="round" stroke-dasharray="2.6 0.9 1.4 1.2 3.4 0.7">
<polyline points="183.4,183.0 186.4,196.4 184.9,203.8 187.8,217.3 186.4,223.2"/>
<polyline points="184.9,203.8 170.0,202.4"/>
<polyline points="184.9,203.8 192.3,202.4"/>
<polyline points="196.0,206.1 201.3,209.1 204.2,214.3 214.7,215.8"/>
<polyline points="201.3,189.0 213.2,190.4 219.1,189.7 223.6,191.2"/>
<polyline points="214.7,197.9 219.0,194.0"/>
<polyline points="226.6,192.0 226.6,199.4"/>
<polyline points="172.9,224.7 183.4,220.2 187.8,217.3 198.3,215.0"/>
<circle cx="184.9" cy="203.8" r="1.15" fill="#e6e6e6" fill-opacity="0.82" stroke="none"/>
<circle cx="201.3" cy="209.1" r="1.15" fill="#e6e6e6" fill-opacity="0.82" stroke="none"/>
<circle cx="214.7" cy="215.8" r="1.15" fill="#e6e6e6" fill-opacity="0.82" stroke="none"/>
<circle cx="219.1" cy="189.7" r="1.15" fill="#e6e6e6" fill-opacity="0.82" stroke="none"/>
<circle cx="214.7" cy="197.9" r="1.15" fill="#e6e6e6" fill-opacity="0.82" stroke="none"/>
<circle cx="187.0" cy="226.0" r="1.15" fill="#e6e6e6" fill-opacity="0.82" stroke="none"/>
<circle cx="209.2" cy="224.5" r="0.51" fill="#dcdcdc" fill-opacity="0.46" stroke="none"/>
<circle cx="205.3" cy="203.5" r="0.94" fill="#dcdcdc" fill-opacity="0.46" stroke="none"/>
<circle cx="186.1" cy="226.1" r="0.55" fill="#dcdcdc" fill-opacity="0.46" stroke="none"/>
<circle cx="199.8" cy="214.6" r="1.04" fill="#dcdcdc" fill-opacity="0.46" stroke="none"/>
<circle cx="211.3" cy="213.2" r="0.98" fill="#dcdcdc" fill-opacity="0.46" stroke="none"/>
<circle cx="222.1" cy="197.8" r="0.91" fill="#dcdcdc" fill-opacity="0.46" stroke="none"/>
<circle cx="221.2" cy="220.5" r="0.75" fill="#dcdcdc" fill-opacity="0.46" stroke="none"/>
<circle cx="214.6" cy="220.1" r="0.84" fill="#dcdcdc" fill-opacity="0.46" stroke="none"/>
<circle cx="204.6" cy="199.1" r="0.85" fill="#dcdcdc" fill-opacity="0.46" stroke="none"/>
<circle cx="203.6" cy="185.9" r="0.88" fill="#dcdcdc" fill-opacity="0.46" stroke="none"/>
<circle cx="226.8" cy="220.8" r="0.94" fill="#dcdcdc" fill-opacity="0.46" stroke="none"/>
<circle cx="190.3" cy="214.5" r="0.85" fill="#dcdcdc" fill-opacity="0.46" stroke="none"/>
<circle cx="193.5" cy="219.0" r="0.55" fill="#dcdcdc" fill-opacity="0.46" stroke="none"/>
<circle cx="212.1" cy="183.7" r="0.86" fill="#dcdcdc" fill-opacity="0.46" stroke="none"/>
<circle cx="195.9" cy="192.5" r="0.92" fill="#dcdcdc" fill-opacity="0.46" stroke="none"/>
<circle cx="196.9" cy="209.3" r="1.05" fill="#dcdcdc" fill-opacity="0.46" stroke="none"/>
<circle cx="182.3" cy="182.9" r="0.68" fill="#dcdcdc" fill-opacity="0.46" stroke="none"/>
<circle cx="207.8" cy="191.3" r="0.60" fill="#dcdcdc" fill-opacity="0.46" stroke="none"/>
<circle cx="221.5" cy="211.2" r="0.77" fill="#dcdcdc" fill-opacity="0.46" stroke="none"/>
<circle cx="220.7" cy="196.7" r="0.90" fill="#dcdcdc" fill-opacity="0.46" stroke="none"/>
<circle cx="178.9" cy="201.2" r="0.98" fill="#dcdcdc" fill-opacity="0.46" stroke="none"/>
<circle cx="222.0" cy="220.9" r="0.73" fill="#dcdcdc" fill-opacity="0.46" stroke="none"/>
<circle cx="202.1" cy="196.2" r="0.58" fill="#dcdcdc" fill-opacity="0.46" stroke="none"/>
<circle cx="196.8" cy="219.0" r="1.01" fill="#dcdcdc" fill-opacity="0.46" stroke="none"/>
<circle cx="209.8" cy="223.9" r="0.67" fill="#dcdcdc" fill-opacity="0.46" stroke="none"/>
<circle cx="177.1" cy="202.1" r="0.67" fill="#dcdcdc" fill-opacity="0.46" stroke="none"/>
</g>
<rect x="165.20000000000002" y="180.70000000000002" width="63.699999999999996" height="47.1" fill="none" stroke="#5a5a5a" stroke-opacity="0.6" stroke-width="0.7"/>
<rect x="26.3" y="236.0" width="63.9" height="47.7" fill="url(#g4)"/>
<rect x="26.3" y="236.0" width="63.9" height="47.7" fill="#fff" opacity="0.22" filter="url(#grain)"/>
<g filter="url(#b1)" stroke="#c8c8c8" stroke-opacity="0.4" stroke-width="1.4" fill="none" stroke-linecap="round" stroke-linejoin="round" stroke-dasharray="2.6 0.9 1.4 1.2 3.4 0.7">
<polyline points="39.4,239.5 40.9,251.4 46.9,257.4"/>
<polyline points="48.4,246.9 54.3,245.4 63.3,248.4 69.2,255.9 75.2,264.8 81.1,270.8"/>
<polyline points="69.2,255.9 85.6,252.9"/>
<polyline points="29.0,270.8 40.9,269.3 49.8,273.7 61.8,278.2 82.6,279.7"/>
<polyline points="75.2,264.8 88.0,265.0"/>
<circle cx="52.8" cy="260.3" r="1.15" fill="#e6e6e6" fill-opacity="0.60" stroke="none"/>
<circle cx="55.8" cy="260.3" r="1.15" fill="#e6e6e6" fill-opacity="0.60" stroke="none"/>
<circle cx="54.3" cy="245.4" r="1.15" fill="#e6e6e6" fill-opacity="0.60" stroke="none"/>
<circle cx="40.9" cy="251.4" r="1.15" fill="#e6e6e6" fill-opacity="0.60" stroke="none"/>
<circle cx="81.1" cy="270.8" r="1.15" fill="#e6e6e6" fill-opacity="0.60" stroke="none"/>
<circle cx="62.0" cy="276.0" r="1.15" fill="#e6e6e6" fill-opacity="0.60" stroke="none"/>
<circle cx="41.1" cy="256.1" r="0.88" fill="#dcdcdc" fill-opacity="0.30" stroke="none"/>
<circle cx="57.9" cy="251.8" r="1.00" fill="#dcdcdc" fill-opacity="0.30" stroke="none"/>
<circle cx="87.1" cy="257.8" r="0.54" fill="#dcdcdc" fill-opacity="0.30" stroke="none"/>
<circle cx="30.2" cy="276.1" r="0.52" fill="#dcdcdc" fill-opacity="0.30" stroke="none"/>
<circle cx="70.7" cy="262.9" r="0.69" fill="#dcdcdc" fill-opacity="0.30" stroke="none"/>
<circle cx="75.7" cy="238.8" r="0.58" fill="#dcdcdc" fill-opacity="0.30" stroke="none"/>
<circle cx="55.5" cy="239.1" r="1.00" fill="#dcdcdc" fill-opacity="0.30" stroke="none"/>
<circle cx="42.5" cy="244.2" r="0.53" fill="#dcdcdc" fill-opacity="0.30" stroke="none"/>
<circle cx="66.0" cy="257.5" r="0.88" fill="#dcdcdc" fill-opacity="0.30" stroke="none"/>
<circle cx="67.5" cy="273.3" r="1.08" fill="#dcdcdc" fill-opacity="0.30" stroke="none"/>
<circle cx="69.3" cy="246.7" r="0.79" fill="#dcdcdc" fill-opacity="0.30" stroke="none"/>
<circle cx="39.0" cy="238.5" r="0.78" fill="#dcdcdc" fill-opacity="0.30" stroke="none"/>
<circle cx="71.1" cy="245.8" r="0.66" fill="#dcdcdc" fill-opacity="0.30" stroke="none"/>
<circle cx="49.0" cy="268.5" r="0.81" fill="#dcdcdc" fill-opacity="0.30" stroke="none"/>
<circle cx="65.1" cy="271.0" r="0.74" fill="#dcdcdc" fill-opacity="0.30" stroke="none"/>
<circle cx="75.7" cy="277.6" r="0.55" fill="#dcdcdc" fill-opacity="0.30" stroke="none"/>
<circle cx="84.2" cy="269.6" r="0.58" fill="#dcdcdc" fill-opacity="0.30" stroke="none"/>
<circle cx="55.5" cy="265.3" r="1.05" fill="#dcdcdc" fill-opacity="0.30" stroke="none"/>
<circle cx="50.9" cy="262.9" r="1.03" fill="#dcdcdc" fill-opacity="0.30" stroke="none"/>
<circle cx="76.0" cy="279.3" r="0.78" fill="#dcdcdc" fill-opacity="0.30" stroke="none"/>
<circle cx="67.3" cy="247.0" r="0.93" fill="#dcdcdc" fill-opacity="0.30" stroke="none"/>
<circle cx="77.3" cy="266.0" r="0.93" fill="#dcdcdc" fill-opacity="0.30" stroke="none"/>
<circle cx="41.1" cy="277.3" r="1.09" fill="#dcdcdc" fill-opacity="0.30" stroke="none"/>
<circle cx="86.8" cy="261.5" r="0.97" fill="#dcdcdc" fill-opacity="0.30" stroke="none"/>
<circle cx="47.5" cy="277.8" r="1.01" fill="#dcdcdc" fill-opacity="0.30" stroke="none"/>
<circle cx="49.2" cy="241.6" r="0.76" fill="#dcdcdc" fill-opacity="0.30" stroke="none"/>
</g>
<rect x="26.6" y="236.3" width="63.3" height="47.1" fill="none" stroke="#5a5a5a" stroke-opacity="0.6" stroke-width="0.7"/>
<rect x="95.9" y="236.0" width="64.0" height="47.7" fill="url(#g5)"/>
<rect x="95.9" y="236.0" width="64.0" height="47.7" fill="#fff" opacity="0.22" filter="url(#grain)"/>
<g filter="url(#b1)" stroke="#c8c8c8" stroke-opacity="0.62" stroke-width="1.4" fill="none" stroke-linecap="round" stroke-linejoin="round" stroke-dasharray="2.6 0.9 1.4 1.2 3.4 0.7">
<polyline points="114.4,239.5 124.8,238.0 130.8,239.5"/>
<polyline points="104.7,247.7 109.9,252.9 111.4,260.3"/>
<polyline points="124.0,251.4 132.3,252.1 138.2,257.4 135.2,259.6 130.8,257.4 128.5,252.5"/>
<polyline points="145.7,241.7 148.7,248.4 146.4,255.9 142.7,261.1 138.2,257.4"/>
<polyline points="119.6,253.6 117.4,258.8"/>
<polyline points="124.8,267.8 122.6,273.7 117.4,276.0"/>
<polyline points="135.2,264.8 136.7,270.8"/>
<polyline points="98.7,266.3 99.5,272.3"/>
<polyline points="106.9,275.2 109.9,279.7"/>
<circle cx="126.3" cy="244.7" r="1.15" fill="#e6e6e6" fill-opacity="0.82" stroke="none"/>
<circle cx="150.9" cy="249.9" r="1.15" fill="#e6e6e6" fill-opacity="0.82" stroke="none"/>
<circle cx="150.9" cy="276.0" r="1.15" fill="#e6e6e6" fill-opacity="0.82" stroke="none"/>
<circle cx="139.7" cy="275.2" r="1.15" fill="#e6e6e6" fill-opacity="0.82" stroke="none"/>
<circle cx="124.8" cy="267.8" r="1.15" fill="#e6e6e6" fill-opacity="0.82" stroke="none"/>
<circle cx="104.7" cy="247.7" r="1.15" fill="#e6e6e6" fill-opacity="0.82" stroke="none"/>
<circle cx="145.7" cy="241.7" r="1.15" fill="#e6e6e6" fill-opacity="0.82" stroke="none"/>
<circle cx="98.7" cy="266.3" r="1.15" fill="#e6e6e6" fill-opacity="0.82" stroke="none"/>
<circle cx="130.9" cy="271.6" r="0.79" fill="#dcdcdc" fill-opacity="0.46" stroke="none"/>
<circle cx="99.6" cy="273.4" r="0.54" fill="#dcdcdc" fill-opacity="0.46" stroke="none"/>
<circle cx="145.9" cy="245.6" r="0.70" fill="#dcdcdc" fill-opacity="0.46" stroke="none"/>
<circle cx="145.2" cy="244.1" r="0.59" fill="#dcdcdc" fill-opacity="0.46" stroke="none"/>
<circle cx="128.9" cy="269.6" r="1.00" fill="#dcdcdc" fill-opacity="0.46" stroke="none"/>
<circle cx="139.3" cy="279.3" r="0.80" fill="#dcdcdc" fill-opacity="0.46" stroke="none"/>
<circle cx="154.8" cy="241.8" r="0.63" fill="#dcdcdc" fill-opacity="0.46" stroke="none"/>
<circle cx="129.5" cy="250.7" r="0.94" fill="#dcdcdc" fill-opacity="0.46" stroke="none"/>
<circle cx="136.2" cy="260.8" r="1.01" fill="#dcdcdc" fill-opacity="0.46" stroke="none"/>
<circle cx="131.5" cy="251.6" r="0.73" fill="#dcdcdc" fill-opacity="0.46" stroke="none"/>
<circle cx="148.6" cy="277.4" r="0.62" fill="#dcdcdc" fill-opacity="0.46" stroke="none"/>
<circle cx="148.9" cy="280.3" r="0.81" fill="#dcdcdc" fill-opacity="0.46" stroke="none"/>
<circle cx="132.3" cy="246.8" r="0.82" fill="#dcdcdc" fill-opacity="0.46" stroke="none"/>
<circle cx="128.1" cy="264.4" r="0.52" fill="#dcdcdc" fill-opacity="0.46" stroke="none"/>
<circle cx="156.1" cy="260.5" r="0.74" fill="#dcdcdc" fill-opacity="0.46" stroke="none"/>
<circle cx="146.0" cy="262.6" r="0.79" fill="#dcdcdc" fill-opacity="0.46" stroke="none"/>
<circle cx="139.4" cy="240.9" r="0.82" fill="#dcdcdc" fill-opacity="0.46" stroke="none"/>
<circle cx="122.7" cy="279.8" r="1.05" fill="#dcdcdc" fill-opacity="0.46" stroke="none"/>
<circle cx="114.1" cy="258.7" r="0.58" fill="#dcdcdc" fill-opacity="0.46" stroke="none"/>
<circle cx="123.9" cy="273.6" r="1.04" fill="#dcdcdc" fill-opacity="0.46" stroke="none"/>
<circle cx="126.5" cy="251.9" r="0.61" fill="#dcdcdc" fill-opacity="0.46" stroke="none"/>
<circle cx="135.0" cy="278.4" r="0.58" fill="#dcdcdc" fill-opacity="0.46" stroke="none"/>
<circle cx="144.7" cy="239.0" r="0.62" fill="#dcdcdc" fill-opacity="0.46" stroke="none"/>
<circle cx="111.5" cy="268.0" r="0.69" fill="#dcdcdc" fill-opacity="0.46" stroke="none"/>
<circle cx="119.2" cy="265.1" r="0.56" fill="#dcdcdc" fill-opacity="0.46" stroke="none"/>
<circle cx="141.8" cy="243.4" r="0.81" fill="#dcdcdc" fill-opacity="0.46" stroke="none"/>
</g>
<rect x="96.2" y="236.3" width="63.4" height="47.1" fill="none" stroke="#5a5a5a" stroke-opacity="0.6" stroke-width="0.7"/>
<rect x="164.9" y="236.0" width="64.3" height="47.7" fill="url(#g6)"/>
<rect x="164.9" y="236.0" width="64.3" height="47.7" fill="#fff" opacity="0.22" filter="url(#grain)"/>
<g filter="url(#b2)" stroke="#c8c8c8" stroke-opacity="0.5" stroke-width="2.8" fill="none" stroke-linecap="round" stroke-linejoin="round" stroke-dasharray="2.6 0.9 1.4 1.2 3.4 0.7">
<polyline points="187.8,261.1 198.3,253.6 204.2,249.9 211.7,243.2 213.2,239.5"/>
<polyline points="187.8,261.1 186.4,257.4 181.9,249.9 180.4,241.0"/>
<polyline points="181.9,249.9 172.9,251.4 167.0,257.4"/>
<polyline points="187.8,261.1 178.9,263.3 170.0,261.8"/>
<polyline points="187.8,261.1 189.3,269.3 195.3,276.7 199.8,279.7"/>
<polyline points="187.8,261.1 201.3,265.6 208.7,267.0 214.7,261.8 223.6,254.4 228.0,251.4"/>
<polyline points="208.7,267.0 213.2,273.7 223.6,272.3"/>
<polyline points="204.2,249.9 213.2,254.4 220.6,255.9"/>
<polyline points="178.9,273.7 170.0,279.7"/>
<polyline points="228.0,262.0 228.0,269.3"/>
<circle cx="187.8" cy="261.1" r="1.15" fill="#e6e6e6" fill-opacity="0.70" stroke="none"/>
<circle cx="198.3" cy="253.6" r="1.15" fill="#e6e6e6" fill-opacity="0.70" stroke="none"/>
<circle cx="204.2" cy="249.9" r="1.15" fill="#e6e6e6" fill-opacity="0.70" stroke="none"/>
<circle cx="186.4" cy="257.4" r="1.15" fill="#e6e6e6" fill-opacity="0.70" stroke="none"/>
<circle cx="182.0" cy="246.6" r="0.82" fill="#dcdcdc" fill-opacity="0.38" stroke="none"/>
<circle cx="193.2" cy="254.4" r="0.75" fill="#dcdcdc" fill-opacity="0.38" stroke="none"/>
<circle cx="198.8" cy="245.0" r="0.62" fill="#dcdcdc" fill-opacity="0.38" stroke="none"/>
<circle cx="205.0" cy="265.9" r="0.82" fill="#dcdcdc" fill-opacity="0.38" stroke="none"/>
<circle cx="218.2" cy="264.7" r="1.01" fill="#dcdcdc" fill-opacity="0.38" stroke="none"/>
<circle cx="180.9" cy="270.4" r="0.99" fill="#dcdcdc" fill-opacity="0.38" stroke="none"/>
<circle cx="221.3" cy="251.8" r="0.69" fill="#dcdcdc" fill-opacity="0.38" stroke="none"/>
<circle cx="222.5" cy="247.5" r="1.10" fill="#dcdcdc" fill-opacity="0.38" stroke="none"/>
<circle cx="220.4" cy="243.9" r="0.64" fill="#dcdcdc" fill-opacity="0.38" stroke="none"/>
<circle cx="210.7" cy="249.3" r="0.56" fill="#dcdcdc" fill-opacity="0.38" stroke="none"/>
<circle cx="217.1" cy="256.4" r="0.97" fill="#dcdcdc" fill-opacity="0.38" stroke="none"/>
<circle cx="174.5" cy="255.6" r="0.91" fill="#dcdcdc" fill-opacity="0.38" stroke="none"/>
<circle cx="168.0" cy="246.8" r="0.91" fill="#dcdcdc" fill-opacity="0.38" stroke="none"/>
<circle cx="221.9" cy="280.3" r="0.57" fill="#dcdcdc" fill-opacity="0.38" stroke="none"/>
<circle cx="197.4" cy="271.1" r="0.80" fill="#dcdcdc" fill-opacity="0.38" stroke="none"/>
<circle cx="208.2" cy="246.3" r="0.54" fill="#dcdcdc" fill-opacity="0.38" stroke="none"/>
<circle cx="173.3" cy="239.6" r="0.83" fill="#dcdcdc" fill-opacity="0.38" stroke="none"/>
<circle cx="197.9" cy="262.9" r="0.59" fill="#dcdcdc" fill-opacity="0.38" stroke="none"/>
<circle cx="178.0" cy="246.9" r="1.00" fill="#dcdcdc" fill-opacity="0.38" stroke="none"/>
<circle cx="226.6" cy="278.5" r="0.56" fill="#dcdcdc" fill-opacity="0.38" stroke="none"/>
<circle cx="170.6" cy="279.6" r="0.78" fill="#dcdcdc" fill-opacity="0.38" stroke="none"/>
<circle cx="213.0" cy="252.3" r="0.78" fill="#dcdcdc" fill-opacity="0.38" stroke="none"/>
<circle cx="198.0" cy="256.8" r="0.86" fill="#dcdcdc" fill-opacity="0.38" stroke="none"/>
<circle cx="167.7" cy="268.6" r="1.01" fill="#dcdcdc" fill-opacity="0.38" stroke="none"/>
<circle cx="177.8" cy="257.8" r="0.94" fill="#dcdcdc" fill-opacity="0.38" stroke="none"/>
<circle cx="191.3" cy="246.5" r="0.60" fill="#dcdcdc" fill-opacity="0.38" stroke="none"/>
</g>
<rect x="165.20000000000002" y="236.3" width="63.699999999999996" height="47.1" fill="none" stroke="#5a5a5a" stroke-opacity="0.6" stroke-width="0.7"/>
<text x="1.00" y="206.89" font-size="9.18" text-anchor="start" fill="#111" stroke="#111" stroke-width="0.2" textLength="14.2" lengthAdjust="spacingAndGlyphs" >BSA</text>
<text x="1.00" y="256.09" font-size="9.18" text-anchor="start" fill="#111" stroke="#111" stroke-width="0.2" textLength="20.6" lengthAdjust="spacingAndGlyphs" >BMP6</text>
<text x="57.60" y="295.49" font-size="9.18" text-anchor="middle" fill="#111" stroke="#111" stroke-width="0.2" textLength="23.0" lengthAdjust="spacingAndGlyphs" >DMSO</text>
<text x="127.60" y="295.29" font-size="9.18" text-anchor="middle" fill="#111" stroke="#111" stroke-width="0.2" textLength="24.0" lengthAdjust="spacingAndGlyphs" >NS398</text>
<text x="193.80" y="294.29" font-size="9.18" text-anchor="middle" fill="#111" stroke="#111" stroke-width="0.2" textLength="23.0" lengthAdjust="spacingAndGlyphs" >SC560</text>
</g>
</svg>
</body></html>
